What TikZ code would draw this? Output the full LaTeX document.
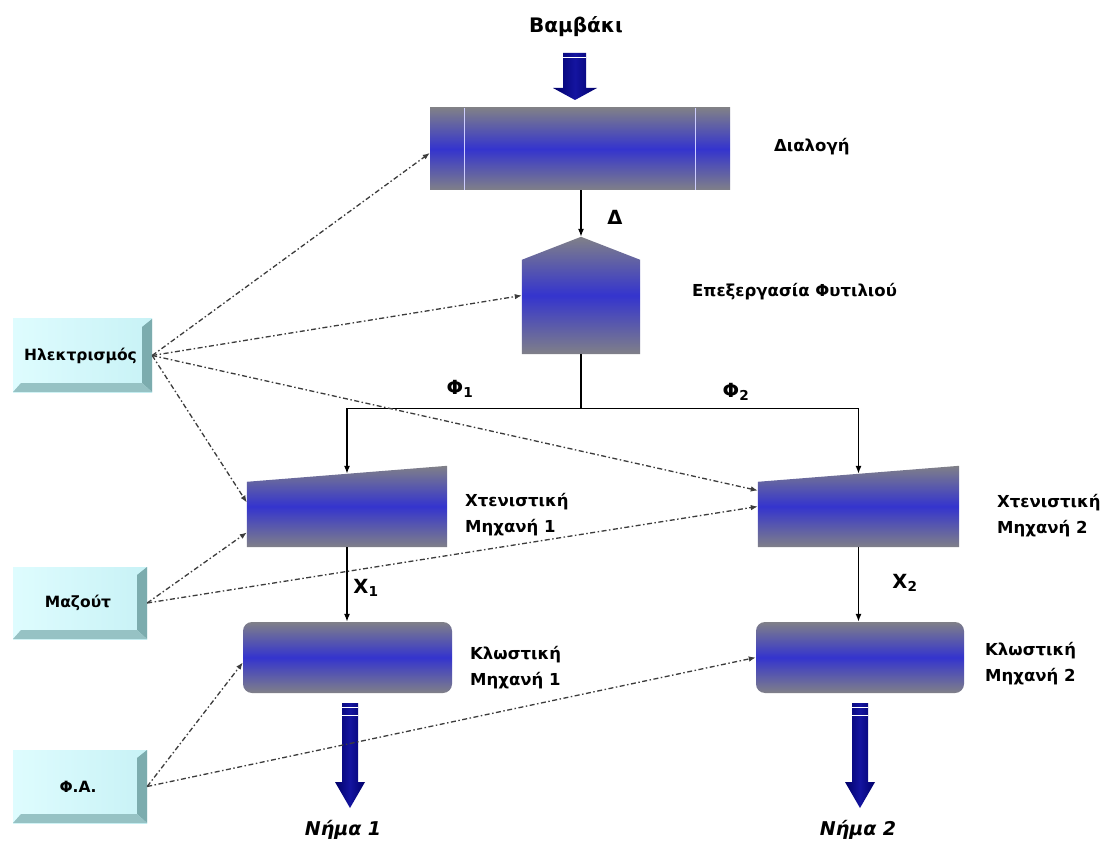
\documentclass[tikz,border=0pt]{standalone}
\usepackage{fontspec}
\setmainfont{DejaVu Sans}
\usetikzlibrary{arrows.meta,calc}
\definecolor{pgray}{RGB}{128,128,136}
\definecolor{pblue}{RGB}{52,52,206}
\definecolor{navyA}{RGB}{0,0,105}
\definecolor{navyB}{RGB}{20,20,160}
\definecolor{cface}{RGB}{200,242,246}
\definecolor{cfaceL}{RGB}{222,252,254}
\definecolor{cright}{RGB}{124,172,174}
\definecolor{cbottom}{RGB}{150,194,196}
\definecolor{dashc}{RGB}{60,60,60}
\definecolor{stripe}{RGB}{205,205,255}
\tikzset{
  procshade/.style={top color=pgray, bottom color=pgray, middle color=pblue},
  frame/.style={inner sep=0pt, draw=none},
  lbl/.style={font=\fontsize{16.5}{25.5}\selectfont\bfseries, align=left, anchor=west, inner sep=0pt},
  sym/.style={font=\fontsize{19.5}{22}\selectfont\bfseries, inner sep=0pt},
  outlbl/.style={font=\fontsize{19}{22}\selectfont\bfseries\itshape, inner sep=0pt},
  flow/.style={draw=black, line width=1.3pt, -{Latex[length=8pt,width=6pt]}},
  energy/.style={draw=dashc, line width=1.3pt, dash pattern=on 5pt off 2.5pt on 1.5pt off 2.5pt, -{Latex[length=7pt,width=5.5pt]}},
  bigarrow/.style={left color=navyA, right color=navyA, middle color=navyB},
  srcbox/.style={inner sep=0pt, left color=cfaceL, right color=cface,
    font=\fontsize{15.5}{18}\selectfont\bfseries,
    path picture={
      \fill[cright] (path picture bounding box.north east) -- (path picture bounding box.south east)
        -- ([xshift=-10pt,yshift=9pt]path picture bounding box.south east)
        -- ([xshift=-10pt,yshift=-8pt]path picture bounding box.north east) -- cycle;
      \fill[cbottom] (path picture bounding box.south west) -- (path picture bounding box.south east)
        -- ([xshift=-10pt,yshift=9pt]path picture bounding box.south east)
        -- ([xshift=8pt,yshift=9pt]path picture bounding box.south west) -- cycle;
    }},
}
\begin{document}
\begin{tikzpicture}[x=1pt,y=-1pt]
\fill[white] (0,0) rectangle (1104,853);
\useasboundingbox (0,0) rectangle (1104,853);

% ---- input arrow
\node[font=\fontsize{20}{22}\selectfont\bfseries, inner sep=0pt] (cotton) at (576,27) {Βαμβάκι};
\shade[bigarrow] (563,53) -- (586,53) -- (586,88) -- (597,88) -- (575,100) -- (553,88) -- (563,88) -- cycle;
\draw[white, line width=1pt] (563,57.5) -- (586,57.5);

% ---- Διαλογή
\node[frame, procshade, minimum width=300pt, minimum height=82pt] (dial) at (580,149) {};
\draw[stripe, line width=1.2pt] ([xshift=35pt]dial.north west) -- ([xshift=35pt]dial.south west);
\draw[stripe, line width=1.2pt] ([xshift=-35pt]dial.north east) -- ([xshift=-35pt]dial.south east);
\node[lbl] (dialL) at (774,147) {Διαλογή};

% ---- Επεξεργασία Φυτιλιού
\node[frame, minimum width=118pt, minimum height=117pt] (pent) at (581,295.5) {};
\shade[procshade] (pent.south west) -- (pent.south east) -- ([yshift=-23pt]pent.north east)
  -- (pent.north) -- ([yshift=-23pt]pent.north west) -- cycle;
\node[lbl] (pentL) at (692,292) {Επεξεργασία Φυτιλιού};
\node[sym] (delta) at (615,217) {Δ};

% ---- Χτενιστικές
\node[frame, minimum width=200pt, minimum height=81pt] (comb1) at (347,506.5) {};
\shade[procshade] ([yshift=-16pt]comb1.north west) -- (comb1.north east) -- (comb1.south east) -- (comb1.south west) -- cycle;
\coordinate (c1top) at ($([yshift=-16pt]comb1.north west)!0.5!(comb1.north east)$);
\node[lbl] (comb1L) at (465,514.5) {Χτενιστική\\Μηχανή 1};

\node[frame, minimum width=201pt, minimum height=81pt] (comb2) at (858.5,506.5) {};
\shade[procshade] ([yshift=-16pt]comb2.north west) -- (comb2.north east) -- (comb2.south east) -- (comb2.south west) -- cycle;
\coordinate (c2top) at ($([yshift=-16pt]comb2.north west)!0.5!(comb2.north east)$);
\node[lbl] (comb2L) at (997,515.5) {Χτενιστική\\Μηχανή 2};

% ---- Κλωστικές
\node[frame, procshade, rounded corners=9pt, minimum width=209pt, minimum height=71pt] (spin1) at (347.5,657.5) {};
\node[lbl] (spin1L) at (470,667.5) {Κλωστική\\Μηχανή 1};
\node[frame, procshade, rounded corners=9pt, minimum width=208pt, minimum height=71pt] (spin2) at (860,657.5) {};
\node[lbl] (spin2L) at (985,663.5) {Κλωστική\\Μηχανή 2};

% ---- flows
\draw[flow] (dial.south -| pent.north) -- (pent.north);
\coordinate (split) at ($(pent.south)+(0,54)$);
\draw[line width=1.3pt] (pent.south) -- (split);
\draw[flow] (split) -| (c1top);
\draw[flow] (split) -| (c2top);
\node[sym] (phi1) at (460,389) {Φ\textsubscript{1}};
\node[sym] (phi2) at (736,392) {Φ\textsubscript{2}};
\draw[flow] (comb1.south) -- (comb1.south |- spin1.north);
\draw[flow] (comb2.south) -- (comb2.south |- spin2.north);
\node[sym] (x1) at (366,588) {Χ\textsubscript{1}};
\node[sym] (x2) at (905,583) {Χ\textsubscript{2}};

% ---- outputs
\shade[bigarrow] (342,703) -- (358,703) -- (358,782) -- (365,782) -- (350,808) -- (335,782) -- (342,782) -- cycle;
\draw[white, line width=1pt] (342,707.5) -- (358,707.5);
\draw[white, line width=1pt] (342,715) -- (358,715);
\node[outlbl] (yarn1) at (343,830) {Νήμα 1};
\shade[bigarrow] (852,703) -- (868,703) -- (868,782) -- (875,782) -- (860,808) -- (845,782) -- (852,782) -- cycle;
\draw[white, line width=1pt] (852,707.5) -- (868,707.5);
\draw[white, line width=1pt] (852,715) -- (868,715);
\node[outlbl] (yarn2) at (858,830) {Νήμα 2};

% ---- energy sources
\node[srcbox, minimum width=139pt, minimum height=73pt] (elec) at (82.5,355.5) {Ηλεκτρισμός\hspace*{4pt}};
\node[srcbox, minimum width=134pt, minimum height=72pt] (maz) at (80,603) {Μαζούτ\hspace*{4pt}};
\node[srcbox, minimum width=134pt, minimum height=73pt] (fa) at (80,786.5) {Φ.Α.\hspace*{4pt}};

\draw[energy] (elec.east) -- ([yshift=-4pt]dial.west);
\draw[energy] (elec.east) -- (pent.west);
\draw[energy] (elec.east) -- ([yshift=16pt]comb2.west);
\draw[energy] (elec.east) -- ([yshift=4pt]comb1.west);
\draw[energy] (maz.east) -- ([yshift=-26pt]comb1.west);
\draw[energy] (maz.east) -- (comb2.west);
\draw[energy] (fa.east) -- ([yshift=-5pt]spin1.west);
\draw[energy] (fa.east) -- (spin2.west);
\end{tikzpicture}
\end{document}
